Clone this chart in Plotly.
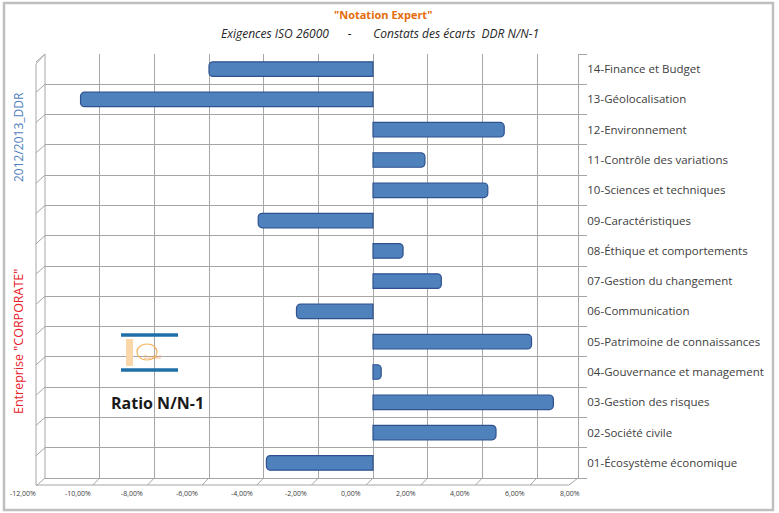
import plotly.graph_objects as go

# ---- data ----
categories = [
    "01-Écosystème économique",
    "02-Société civile",
    "03-Gestion des risques",
    "04-Gouvernance et management",
    "05-Patrimoine de connaissances",
    "06-Communication",
    "07-Gestion du changement",
    "08-Éthique et comportements",
    "09-Caractéristiques",
    "10-Sciences et techniques",
    "11-Contrôle des variations",
    "12-Environnement",
    "13-Géolocalisation",
    "14-Finance et Budget",
]
ratio_pct = [-3.9, 4.5, 6.6, 0.3, 5.8, -2.8, 2.5, 1.1, -4.2, 4.2, 1.9, 4.8, -10.7, -6.0]
ratio = [v / 100 for v in ratio_pct]
x_ticks = [-0.12, -0.10, -0.08, -0.06, -0.04, -0.02, 0.0, 0.02, 0.04, 0.06, 0.08]
x_range = [-0.12, 0.075]

# ---- layout geometry ----
W, H = 779, 513
L, R, T, B = 45, 201, 54, 35
PW, PH = W - L - R, H - T - B

def px(x):
    return (x - L) / PW

def py(y):
    return (H - B - y) / PH

def xpaper(v):
    return (v - x_range[0]) / (x_range[1] - x_range[0])

GRID = "#A6A6A6"
FONT = "Open Sans"

fig = go.Figure()
fig.add_trace(go.Bar(
    x=ratio, y=categories, orientation="h",
    width=0.48,
    marker=dict(color="#4F81BD", line=dict(color="#2F528F", width=1.2), cornerradius=4),
    name="Ratio N/N-1", showlegend=False,
))

shapes = []
# outer chart border
shapes.append(dict(type="rect", xref="paper", yref="paper",
                   x0=px(4), x1=px(773), y0=py(510), y1=py(3),
                   line=dict(color="#BFBFBF", width=2.5), layer="below"))
# left wall (3D look)
shapes.append(dict(type="line", xref="paper", yref="paper",
                   x0=px(36), x1=px(36), y0=py(485), y1=py(64),
                   line=dict(color=GRID, width=1)))
shapes.append(dict(type="line", xref="paper", yref="paper",
                   x0=px(36), x1=0, y0=py(64), y1=1,
                   line=dict(color=GRID, width=1)))
shapes.append(dict(type="line", xref="paper", yref="paper",
                   x0=0, x1=0, y0=0, y1=1,
                   line=dict(color=GRID, width=1)))
# floor front edge
shapes.append(dict(type="line", xref="paper", yref="paper",
                   x0=px(36), x1=px(569), y0=py(485), y1=py(485),
                   line=dict(color=GRID, width=1)))
shapes.append(dict(type="line", xref="paper", yref="paper",
                   x0=px(569), x1=1, y0=py(485), y1=0,
                   line=dict(color=GRID, width=1)))
# wall diagonals at category boundaries
for k in range(len(categories) + 1):
    yb = k / len(categories)
    shapes.append(dict(type="line", xref="paper", yref="paper",
                       x0=px(36), x1=0, y0=yb - 8 / PH, y1=yb,
                       line=dict(color=GRID, width=1)))
# floor diagonals at x ticks
for t in x_ticks[:-1]:
    shapes.append(dict(type="line", xref="x", yref="paper",
                       x0=t - 0.0025, x1=t, y0=-7 / PH, y1=0,
                       line=dict(color=GRID, width=1)))
# logo: two blue bars and a small orange mark
for yy in (335, 370):
    shapes.append(dict(type="line", xref="paper", yref="paper",
                       x0=px(121), x1=px(178), y0=py(yy), y1=py(yy),
                       line=dict(color="#1F6FA8", width=3.5)))
shapes.append(dict(type="rect", xref="paper", yref="paper",
                   x0=px(126), x1=px(133), y0=py(366), y1=py(339),
                   fillcolor="#F9D7A8", line=dict(width=0)))
shapes.append(dict(type="circle", xref="paper", yref="paper",
                   x0=px(137), x1=px(157), y0=py(360), y1=py(344),
                   fillcolor="rgba(0,0,0,0)", line=dict(color="#F2B35E", width=1.2)))

def ann(x, y, text, size, color, angle=0):
    return dict(x=px(x), y=py(y), xref="paper", yref="paper", showarrow=False,
                xanchor="center", yanchor="middle", textangle=angle, text=text,
                font=dict(family=FONT, size=size, color=color))

annotations = []
for t in x_ticks:
    annotations.append(dict(
        x=xpaper(t), y=0, xref="paper", yref="paper", yanchor="top", xanchor="center",
        xshift=-22, yshift=-9, showarrow=False,
        text=(f"{t*100:.2f}".replace(".", ",") + "%"),
        font=dict(family=FONT, size=7, color="#404040"),
    ))
annotations += [
    ann(383, 15, "<b>\"Notation Expert\"</b>", 11, "#E46C0A"),
    ann(380, 34, "<i>Exigences ISO 26000      -       Constats des écarts  DDR N/N-1</i>", 12, "#262626"),
    ann(18, 342, "Entreprise \"CORPORATE\"", 12.5, "#E8202A", -90),
    ann(18, 137, "2012/2013_DDR", 12, "#4F81BD", -90),
    ann(157, 403, "<b>Ratio N/N-1</b>", 16, "#1A1A1A"),
    ann(152, 357, "Conseil", 5, "#F2A04A"),
]

fig.update_layout(
    width=W, height=H,
    margin=dict(l=L, r=R, t=T, b=B, autoexpand=False),
    paper_bgcolor="white", plot_bgcolor="white",
    separators=", ",
    bargap=0.5,
    xaxis=dict(range=x_range, tickvals=x_ticks, showticklabels=False,
               showgrid=True, gridcolor=GRID, gridwidth=1,
               zeroline=True, zerolinecolor=GRID, zerolinewidth=1,
               showline=True, linecolor=GRID, ticks="", fixedrange=True),
    yaxis=dict(side="right", type="category", tickson="boundaries",
               showgrid=True, gridcolor=GRID, gridwidth=1,
               showline=True, linecolor=GRID, ticks="outside", ticklen=8,
               tickcolor=GRID, ticklabelstandoff=6,
               tickfont=dict(family=FONT, size=11.5, color="#404040"),
               range=[-0.5, len(categories) - 0.5]),
    shapes=shapes,
    annotations=annotations,
    showlegend=False,
)

fig.write_html("out.html", config={"displayModeBar": False},
               post_script="document.body.style.margin='0';")
